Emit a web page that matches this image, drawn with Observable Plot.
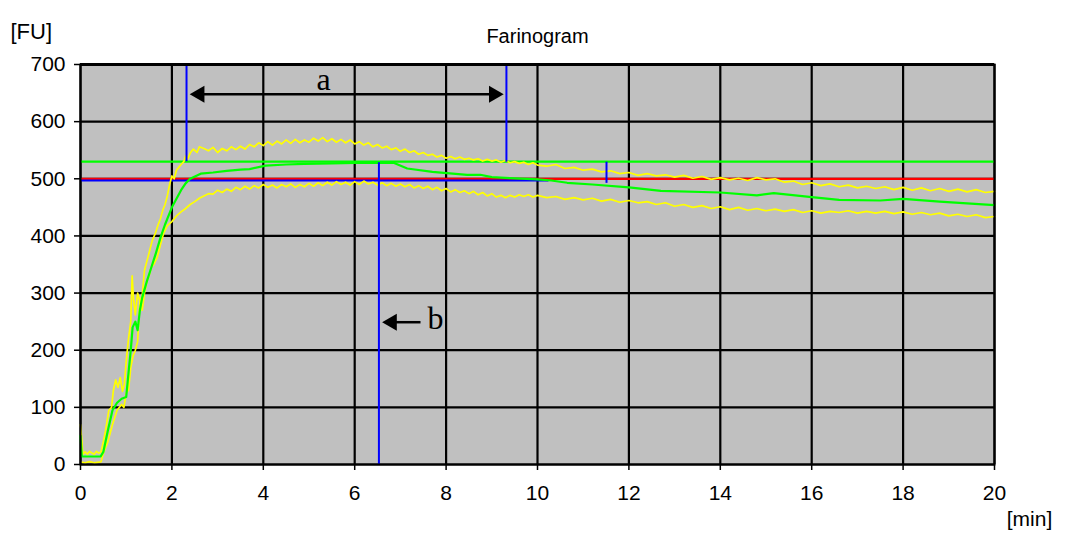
<!DOCTYPE html>
<html><head><meta charset="utf-8">
<script src="https://cdn.jsdelivr.net/npm/d3@7"></script>
<script src="https://cdn.jsdelivr.net/npm/@observablehq/plot@0.6"></script>
<style>body{margin:0;background:#fff;}</style>
</head><body><div id="chart"></div>
<script>
const xTicks = [0,2,4,6,8,10,12,14,16,18,20];
const yTicks = [0,100,200,300,400,500,600,700];
const titleText = "Farinogram";
const yUnit = "[FU]";
const xUnit = "[min]";

// upper band (yellow), [min, FU]
const upperBand = [[0,70],[0.03,42],[0.05,18],[0.1,22],[0.15,18],[0.2,23],[0.25,20],[0.3,18],[0.35,23],[0.4,20],[0.45,22],[0.5,40],[0.55,60],[0.62,95],[0.68,100],[0.72,130],[0.77,148],[0.82,135],[0.87,152],[0.92,128],[0.96,140],[1.0,180],[1.05,220],[1.1,250],[1.13,330],[1.16,290],[1.2,262],[1.25,300],[1.3,285],[1.35,295],[1.4,340],[1.45,355],[1.5,370],[1.57,392],[1.64,405],[1.7,420],[1.75,430],[1.8,445],[1.85,455],[1.9,470],[1.95,490],[2.0,505],[2.05,500],[2.1,515],[2.15,520],[2.2,525],[2.26,530],[2.3,540],[2.35,535],[2.4,545],[2.47,552],[2.55,546],[2.6,556],[2.7,553],
[2.8,549],[2.9,555],[3.0,546],[3.1,553],[3.2,549],[3.3,556],[3.4,551],[3.5,557],[3.6,552],[3.7,560],[3.8,556],[3.9,563],[4.0,558],[4.1,565],[4.2,559],[4.3,566],[4.4,561],[4.5,568],[4.6,562],[4.7,569],[4.8,563],[4.9,568],[5.0,564],[5.1,571],[5.2,566],[5.3,572],[5.4,565],[5.5,570],[5.6,564],[5.7,569],[5.8,563],[5.9,568],[6.0,561],[6.1,565],[6.2,559],[6.3,563],[6.4,556],[6.5,560],[6.6,554],[6.7,557],[6.8,551],[6.9,554],[7.0,548],[7.1,552],[7.2,546],[7.3,549],[7.4,543],[7.5,546],[7.6,541],[7.7,543],[7.8,538],[7.9,541],[8.0,536],[8.1,539],[8.2,535],[8.3,538],[8.4,534],[8.5,536],[8.6,533],[8.7,535],[8.8,531],[8.9,534],[9.0,531],[9.1,533],[9.2,529],[9.3,532],[9.4,528],[9.5,530],[9.6,527],[9.7,529],[9.8,525],[9.9,528],[10.0,524],
[10.2,522],[10.4,525],[10.6,518],[10.8,520],[11.0,515],[11.2,517],[11.4,512],[11.6,514],[11.8,509],[12.0,511],[12.2,506],[12.4,509],[12.6,505],[12.8,507],[13.0,503],[13.2,506],[13.4,501],[13.6,504],[13.8,499],[14.0,502],[14.2,498],[14.4,501],[14.6,497],[14.8,502],[15.0,498],[15.2,500],[15.4,494],[15.6,496],[15.8,490],[16.0,493],[16.2,488],[16.4,491],[16.6,486],[16.8,489],[17.0,484],[17.2,487],[17.4,483],[17.6,486],[17.8,481],[18.0,485],[18.2,480],[18.4,484],[18.6,479],[18.8,483],[19.0,478],[19.2,482],[19.4,477],[19.6,481],[19.8,476],[20.0,478]];

// lower band (yellow)
const lowerBand = [[0.04,4],[0.1,3],[0.2,5],[0.3,3],[0.4,4],[0.45,5],[0.5,20],[0.6,40],[0.7,70],[0.8,95],[0.9,105],[0.95,100],[1.0,125],[1.05,130],[1.1,170],[1.15,190],[1.2,200],[1.25,215],[1.3,287],[1.35,270],[1.4,300],[1.46,322],[1.5,330],[1.55,345],[1.6,350],[1.68,363],[1.75,385],[1.82,405],[1.9,418],[2.0,425],[2.1,435],[2.2,442],[2.3,448],[2.4,455],[2.5,460],[2.6,466],[2.7,470],[2.8,474],
[2.9,473],[3.0,480],[3.1,476],[3.2,482],[3.3,478],[3.4,485],[3.5,481],[3.6,487],[3.7,482],[3.8,488],[3.9,484],[4.0,490],[4.1,485],[4.2,489],[4.3,484],[4.4,490],[4.5,486],[4.6,491],[4.7,485],[4.8,490],[4.9,486],[5.0,492],[5.1,487],[5.2,493],[5.3,488],[5.4,494],[5.5,489],[5.6,495],[5.7,490],[5.8,494],[5.9,489],[6.0,495],[6.1,490],[6.2,496],[6.3,491],[6.4,494],[6.5,489],[6.6,493],[6.7,488],[6.8,492],[6.9,487],[7.0,491],[7.1,486],[7.2,490],[7.3,484],[7.4,488],[7.5,483],[7.6,487],[7.7,481],[7.8,485],[7.9,479],[8.0,483],[8.1,477],[8.2,481],[8.3,476],[8.4,479],[8.5,474],[8.6,478],[8.7,472],[8.8,476],[8.9,470],[9.0,474],[9.1,468],[9.2,471],[9.3,467],[9.4,471],[9.5,468],[9.6,472],[9.7,469],[9.8,472],[9.9,468],[10.0,471],
[10.2,467],[10.4,469],[10.6,464],[10.8,467],[11.0,463],[11.2,466],[11.4,461],[11.6,464],[11.8,459],[12.0,462],[12.2,458],[12.4,460],[12.6,455],[12.8,458],[13.0,452],[13.2,455],[13.4,450],[13.6,453],[13.8,448],[14.0,451],[14.2,446],[14.4,450],[14.6,445],[14.8,448],[15.0,444],[15.2,447],[15.4,443],[15.6,446],[15.8,441],[16.0,444],[16.2,440],[16.4,443],[16.6,441],[16.8,444],[17.0,440],[17.2,443],[17.4,440],[17.6,443],[17.8,439],[18.0,442],[18.2,438],[18.4,441],[18.6,437],[18.8,440],[19.0,435],[19.2,438],[19.4,434],[19.6,437],[19.8,432],[20.0,434]];

// median curve (green)
const medianCurve = [[0,50],[0.03,14],[0.44,14],[0.5,22],[0.6,60],[0.7,95],[0.8,108],[0.9,115],[1.0,118],[1.05,160],[1.1,200],[1.14,240],[1.2,250],[1.25,235],[1.3,270],[1.35,292],[1.45,320],[1.53,340],[1.65,370],[1.75,397],[1.85,420],[2.0,450],[2.1,465],[2.2,480],[2.3,492],[2.4,500],[2.63,509],[2.9,511],[3.2,514],[3.5,516],[3.7,517],[4.05,523],[4.5,525],[4.9,526],[5.5,527],[6.0,528],[6.85,528],[7.15,518],[7.7,512],[8.46,507],[8.75,507],[9.0,503],[9.4,501],[10.0,499],[10.3,497],[10.65,493],[11.2,490],[12.0,485],[12.7,479],[14.0,476],[14.8,471],[15.17,475],[16.0,468],[16.6,463],[17.5,462],[18.0,465],[18.8,460],[20,454]];

// reference lines
const hLines = [
  {y: 530, x1: 0, x2: 20, color: "#00ff00"},
  {y: 500, x1: 0, x2: 20, color: "#ff0000"},
  {y: 497, x1: 0, x2: 10.25, color: "#0000ff"}
];
const vLines = [
  {x: 2.32, y1: 530, y2: 700},
  {x: 9.32, y1: 529, y2: 700},
  {x: 6.53, y1: 0, y2: 528},
  {x: 11.51, y1: 492, y2: 529}
];
// annotation arrows
const arrowA = {x1: 2.39, x2: 9.26, y: 648, label: "a", lx: 5.32, ly: 656};
const arrowB = {x1: 6.6, x2: 7.44, y: 249, label: "b", lx: 7.77, ly: 238};

const headR = 6.3;
const headOff = 2 * Math.sqrt(headR*headR*Math.PI/(3*Math.sqrt(3)));

const chart = Plot.plot({
  width: 1065, height: 540,
  marginLeft: 80, marginRight: 71, marginTop: 64, marginBottom: 76,
  style: {fontFamily: "'Liberation Sans', Arial, sans-serif", fontSize: "21px", background: "#fff", color: "#000", overflow: "visible"},
  x: {domain: [0, 20]},
  y: {domain: [0, 700]},
  marks: [
    Plot.frame({fill: "#c0c0c0"}),
    Plot.gridX(xTicks, {stroke: "#000", strokeOpacity: 1, strokeWidth: 2.2}),
    Plot.gridY(yTicks, {stroke: "#000", strokeOpacity: 1, strokeWidth: 2.2}),
    Plot.axisX(xTicks, {tickSize: 6, tickPadding: 15, label: null, fontSize: 21, stroke: "#000", strokeWidth: 1.5}),
    Plot.axisY(yTicks, {tickSize: 6, tickPadding: 9, label: null, fontSize: 21, stroke: "#000", strokeWidth: 1.5}),
    Plot.ruleY(hLines, {y: "y", x1: "x1", x2: "x2", stroke: "color", strokeWidth: 2.2}),
    Plot.line(upperBand, {x: d => d[0], y: d => d[1], stroke: "#ffff00", strokeWidth: 1.7}),
    Plot.line(lowerBand, {x: d => d[0], y: d => d[1], stroke: "#ffff00", strokeWidth: 1.7}),
    Plot.line(medianCurve, {x: d => d[0], y: d => d[1], stroke: "#00ff00", strokeWidth: 2.2}),
    Plot.ruleX(vLines, {x: "x", y1: "y1", y2: "y2", stroke: "#0000ff", strokeWidth: 2}),
    Plot.ruleY([700], {x1: 0, x2: 20, y: d => d, stroke: "#000", strokeWidth: 3}),
    Plot.frame({stroke: "#000", strokeWidth: 2}),
    // arrow a
    Plot.link([arrowA], {x1: d => d.x1 + 0.3, x2: d => d.x2 - 0.3, y1: "y", y2: "y", stroke: "#000", strokeWidth: 2.5}),
    Plot.dot([arrowA], {x: "x1", y: "y", dx: headOff, symbol: "triangle", r: headR, rotate: -90, fill: "#000", stroke: null}),
    Plot.dot([arrowA], {x: "x2", y: "y", dx: -headOff, symbol: "triangle", r: headR, rotate: 90, fill: "#000", stroke: null}),
    Plot.text([arrowA], {x: "lx", y: "ly", text: "label", fontFamily: "'Liberation Serif', 'Times New Roman', serif", fontSize: 32, lineAnchor: "bottom", fill: "#000"}),
    // arrow b
    Plot.link([arrowB], {x1: d => d.x1 + 0.3, x2: "x2", y1: "y", y2: "y", stroke: "#000", strokeWidth: 2.5}),
    Plot.dot([arrowB], {x: "x1", y: "y", dx: headOff, symbol: "triangle", r: headR, rotate: -90, fill: "#000", stroke: null}),
    Plot.text([arrowB], {x: "lx", y: "ly", text: "label", fontFamily: "'Liberation Serif', 'Times New Roman', serif", fontSize: 32, lineAnchor: "bottom", fill: "#000"}),
    // titles
    Plot.text([titleText], {text: d => d, frameAnchor: "top", dy: -36, fontSize: 20, fill: "#000"}),
    Plot.text([yUnit], {text: d => d, frameAnchor: "top-left", textAnchor: "start", dx: -70, dy: -41, fontSize: 22, fill: "#000"}),
    Plot.text([xUnit], {text: d => d, frameAnchor: "bottom-right", textAnchor: "middle", dx: 35, dy: 61, fontSize: 21, fill: "#000"})
  ]
});
document.getElementById("chart").appendChild(chart);
</script>
</body></html>
